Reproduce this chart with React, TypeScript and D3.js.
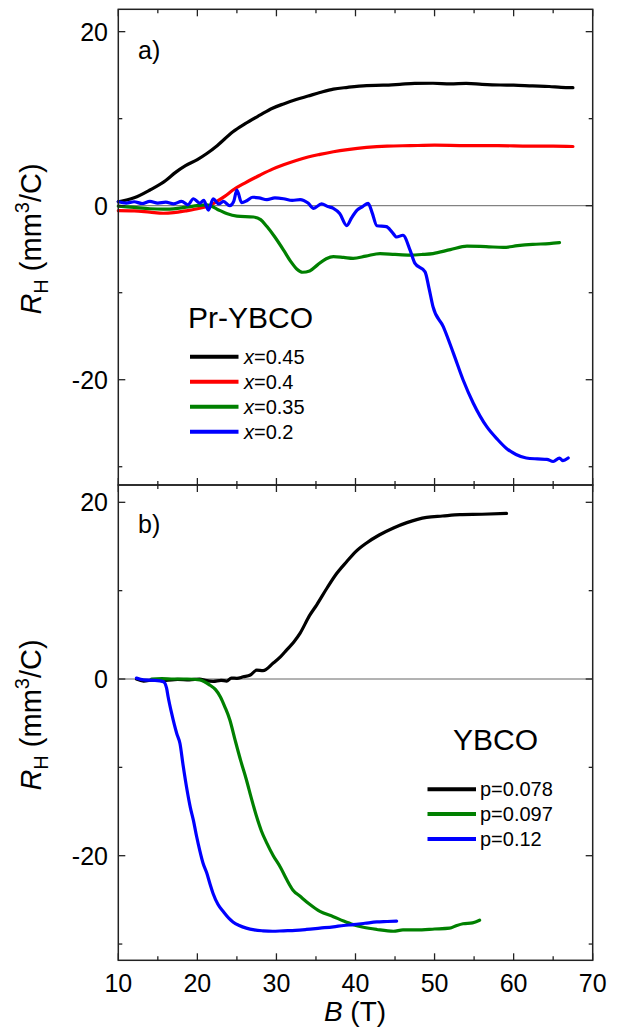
import * as d3 from "d3";

const FONT = "'Liberation Sans', Arial, Helvetica, sans-serif";

type Pt = [number, number];

// ---- panel a) Pr-YBCO, R_H (mm^3/C) vs B (T)
const prX045: Pt[] = [
  [10, 0.45], [12, 0.9], [14, 1.8], [16, 2.9], [17.2, 3.8], [18.5, 4.6], [20, 5.3], [21.2, 6.0],
  [22.5, 6.9], [24.5, 8.5], [26, 9.4], [27.9, 10.4], [29.5, 11.2], [30.9, 11.7], [32.5, 12.2],
  [34, 12.6], [35.5, 13.0], [37.2, 13.4], [39, 13.6], [41.4, 13.8], [43.5, 13.85], [45.6, 13.95],
  [47.5, 14.05], [49.8, 14.07], [52, 14.0], [54, 14.05], [56, 13.95], [58.3, 13.87], [60, 13.85],
  [62.4, 13.76], [64.5, 13.7], [66, 13.6], [67.5, 13.56],
];
const prX040: Pt[] = [
  [10, -0.57], [12, -0.6], [14, -0.75], [15.7, -0.87], [17, -0.8], [18.5, -0.6], [20.3, -0.3],
  [21.5, 0.0], [22.4, 0.46], [23.5, 1.1], [24.5, 1.8], [26, 2.6], [27.9, 3.5], [29.5, 4.2],
  [30.9, 4.7], [32.5, 5.2], [34, 5.6], [35.5, 5.9], [37.2, 6.2], [39, 6.45], [41.4, 6.7],
  [44, 6.85], [46.9, 6.9], [50, 6.95], [54, 6.9], [58, 6.9], [62, 6.85], [65, 6.85], [67.5, 6.8],
];
const prX035: Pt[] = [
  [10, -0.05], [12, -0.2], [14, -0.35], [15.7, -0.4], [17.5, -0.3], [19.5, -0.05], [21.2, 0.1],
  [22.5, -0.4], [23.7, -0.9], [25, -1.2], [27.1, -1.3], [28, -1.6], [28.8, -2.4], [29.8, -3.6],
  [30.9, -5.1], [31.8, -6.4], [32.6, -7.3], [33.3, -7.65], [34.2, -7.5], [35.2, -6.8], [36.3, -6.1],
  [37.2, -5.86], [38.5, -5.95], [39.7, -6.05], [41.3, -5.8], [43.1, -5.5], [45, -5.6], [46.9, -5.67],
  [48.5, -5.6], [49.8, -5.5], [52, -5.05], [54.1, -4.65], [56.5, -4.7], [58.7, -4.8], [60.5, -4.6],
  [62.4, -4.45], [64.5, -4.35], [65.8, -4.25],
];
const prX020: Pt[] = [
  [10, 0.46], [11, 0.3], [12, 0.45], [13, 0.25], [14, 0.5], [15, 0.3], [16, 0.4], [17, 0.2],
  [18, 0.5], [18.8, 0.1], [19.5, 0.8], [20.3, 0.3], [20.8, 0.6], [21.4, -0.5], [22, 0.8],
  [22.7, 0.2], [23.3, 0.5], [24.1, 0.0], [24.6, 0.5], [25, 1.8], [25.6, 0.35], [26.3, 0.6],
  [27, 0.97], [27.8, 0.9], [28.8, 0.7], [29.8, 0.9], [30.9, 0.8], [32, 0.6], [33, 0.7], [34, 0.3],
  [34.7, -0.3], [35.7, 0.2], [36.5, -0.1], [37.2, -0.3], [38, -0.9], [38.9, -2.3], [39.5, -1.4],
  [40.2, -0.5], [40.9, -0.1], [41.6, 0.27], [42.1, -0.8], [42.7, -2.3], [43.9, -2.4], [44.6, -3.0],
  [45.2, -3.6], [46, -3.4], [46.9, -5.1], [47.5, -6.6], [48.8, -7.6], [49.3, -9.5], [49.8, -11.6],
  [51.1, -13.9], [52.4, -17.0], [53.6, -20.0], [54.9, -22.7], [56.6, -25.4], [58, -26.9],
  [59.1, -27.9], [60.3, -28.6], [61.6, -29.0], [63, -29.1], [64.2, -29.15], [65, -29.4],
  [65.8, -29.0], [66.2, -29.3], [66.9, -29.0],
];

// ---- panel b) YBCO
const ybP078: Pt[] = [
  [12.3, 0.0], [13.2, -0.23], [14.5, -0.1], [16, -0.15], [17.5, -0.05], [19, -0.1], [20.3, 0.0],
  [21, -0.15], [22, -0.26], [23, -0.15], [23.7, -0.23], [24.3, 0.1], [25, 0.08], [25.8, 0.25],
  [26.7, 0.45], [27.5, 1.0], [28.3, 0.94], [29.6, 1.8], [30.5, 2.5], [31.3, 3.3], [32.2, 4.2],
  [33, 5.2], [34.2, 7.2], [35.1, 8.4], [36.4, 10.3], [37.5, 11.8], [38.9, 13.3], [40, 14.4],
  [41.4, 15.4], [43, 16.3], [44.8, 17.1], [46.5, 17.7], [49, 18.3], [51, 18.45], [53.2, 18.6],
  [56, 18.65], [59.1, 18.75],
];
const ybP097: Pt[] = [
  [14.2, 0.0], [15.5, 0.05], [17, 0.0], [18.7, 0.0], [20.3, -0.1], [21.6, -0.7], [22.3, -1.2],
  [22.9, -2.0], [23.5, -3.2], [24.1, -4.6], [24.8, -7.0], [25.5, -9.3], [26.2, -11.4], [26.8, -13.4],
  [27.5, -15.6], [28.1, -17.2], [28.8, -18.6], [29.6, -20.0], [30.5, -21.3], [31.3, -22.7],
  [32.1, -23.9], [33, -24.6], [34.2, -25.5], [35.5, -26.3], [37.2, -26.9], [38.5, -27.4],
  [39.7, -27.8], [41, -28.1], [42.7, -28.35], [44.8, -28.55], [46, -28.4], [47.7, -28.4],
  [50, -28.3], [51.9, -28.2], [52.8, -27.9], [53.6, -27.7], [54.8, -27.6], [55.7, -27.3],
];
const ybP012: Pt[] = [
  [12.3, 0.1], [13.2, -0.1], [14.5, -0.15], [15.7, -0.3], [16.1, -1.0], [16.3, -2.0], [16.75, -3.9],
  [17.4, -6.2], [17.8, -7.3], [18.2, -9.8], [18.7, -12.6], [19.1, -14.5], [19.5, -16.0],
  [19.9, -17.8], [20.3, -19.4], [20.7, -20.8], [21.2, -22.0], [21.6, -23.2], [22, -24.3],
  [22.6, -25.5], [23.3, -26.35], [24, -27.1], [24.5, -27.5], [25.3, -27.9], [26.2, -28.2],
  [27.2, -28.4], [28.3, -28.5], [29.5, -28.55], [30.9, -28.5], [32.4, -28.45], [33.8, -28.35],
  [35.5, -28.2], [37.2, -28.05], [38.5, -27.9], [39.7, -27.8], [41.2, -27.65], [42.7, -27.5],
  [44, -27.45], [45.2, -27.4],
];

const xMajor = [10, 20, 30, 40, 50, 60, 70];
const xMinor = [15, 25, 35, 45, 55, 65];
const yMajor = [-20, 0, 20];
const yMinor = [-30, -10, 10];

const prLabels = ["0.45", "0.4", "0.35", "0.2"];
const ybLabels = ["p=0.078", "p=0.097", "p=0.12"];
const prColors = ["#000000", "#ff0000", "#008000", "#0000ff"];
const ybColors = ["#000000", "#008000", "#0000ff"];

const W = 619, H = 1028;
const xS = d3.scaleLinear().domain([10, 70]).range([118.3, 592.7]);
const yA = d3.scaleLinear().domain([-32.1, 22.57]).range([485, 9.3]);
const yB = d3.scaleLinear().domain([-31.84, 21.96]).range([960.3, 485]);

const FRAME = "#222";

function Panel({ y, series, colors }: { y: d3.ScaleLinear<number, number>; series: Pt[][]; colors: string[] }) {
  const [x0, x1] = xS.range();
  const [b, t] = y.range();
  const line = d3.line<Pt>().x((d) => xS(d[0])).y((d) => y(d[1])).curve(d3.curveMonotoneX);
  return (
    <g>
      <line x1={x0} x2={x1} y1={y(0)} y2={y(0)} stroke="#666" strokeWidth={1} />
      {series.map((s, i) => (
        <path key={i} d={line(s) ?? ""} fill="none" stroke={colors[i]} strokeWidth={3.2}
          strokeLinejoin="round" strokeLinecap="round" />
      ))}
      <rect x={x0} y={t} width={x1 - x0} height={b - t} fill="none" stroke={FRAME} strokeWidth={1.5} />
      {[...xMajor.map((v) => [v, 7]), ...xMinor.map((v) => [v, 4])].map(([v, l], i) => (
        <g key={"x" + i} stroke={FRAME} strokeWidth={1.3}>
          <line x1={xS(v)} x2={xS(v)} y1={b} y2={b - l} />
          <line x1={xS(v)} x2={xS(v)} y1={t} y2={t + l} />
        </g>
      ))}
      {[...yMajor.map((v) => [v, 7]), ...yMinor.map((v) => [v, 4])].map(([v, l], i) => (
        <g key={"y" + i} stroke={FRAME} strokeWidth={1.3}>
          <line x1={x0} x2={x0 + l} y1={y(v)} y2={y(v)} />
          <line x1={x1} x2={x1 - l} y1={y(v)} y2={y(v)} />
        </g>
      ))}
      {yMajor.map((v) => (
        <text key={"yl" + v} x={108} y={y(v) + 9} textAnchor="end" fontSize={25} fill="#000">{v}</text>
      ))}
    </g>
  );
}

function YLabel({ cy }: { cy: number }) {
  return (
    <text transform={`translate(41,${cy}) rotate(-90)`} textAnchor="middle" fontSize={29} fill="#000">
      <tspan fontStyle="italic">R</tspan>
      <tspan fontSize={20} dy={7}>H</tspan>
      <tspan dy={-7}> (mm</tspan>
      <tspan fontSize={20} dy={-12}>3</tspan>
      <tspan dy={12}>/C)</tspan>
    </text>
  );
}

export default function App() {
  return (
    <svg width={W} height={H} style={{ position: "absolute", left: 0, top: 0, background: "#fff" }}
      fontFamily={FONT}>
      <rect width={W} height={H} fill="#fff" />
      <Panel y={yA} series={[prX045, prX040, prX035, prX020]} colors={prColors} />
      <Panel y={yB} series={[ybP078, ybP097, ybP012]} colors={ybColors} />

      {xMajor.map((v) => (
        <text key={"xl" + v} x={xS(v)} y={992} textAnchor="middle" fontSize={25} fill="#000">{v}</text>
      ))}
      <text x={355} y={1021} textAnchor="middle" fontSize={28} fill="#000">
        <tspan fontStyle="italic">B</tspan> (T)
      </text>
      <YLabel cy={239} />
      <YLabel cy={715} />

      <text x={138} y={59} fontSize={25} fill="#000">a)</text>
      <text x={138} y={533} fontSize={25} fill="#000">b)</text>

      <text x={188} y={328} fontSize={30} fill="#000">Pr-YBCO</text>
      {prLabels.map((lab, i) => {
        const ly = 356.7 + i * 25;
        return (
          <g key={lab}>
            <line x1={190} x2={238.5} y1={ly} y2={ly} stroke={prColors[i]} strokeWidth={4} />
            <text x={244} y={ly + 7} fontSize={20} fill="#000">
              <tspan fontStyle="italic">x</tspan>={lab}
            </text>
          </g>
        );
      })}

      <text x={453} y={750} fontSize={30} fill="#000">YBCO</text>
      {ybLabels.map((lab, i) => {
        const ly = 789.3 + i * 24.8;
        return (
          <g key={lab}>
            <line x1={427.5} x2={476} y1={ly} y2={ly} stroke={ybColors[i]} strokeWidth={4} />
            <text x={480} y={ly + 7} fontSize={20} fill="#000">{lab}</text>
          </g>
        );
      })}
    </svg>
  );
}
